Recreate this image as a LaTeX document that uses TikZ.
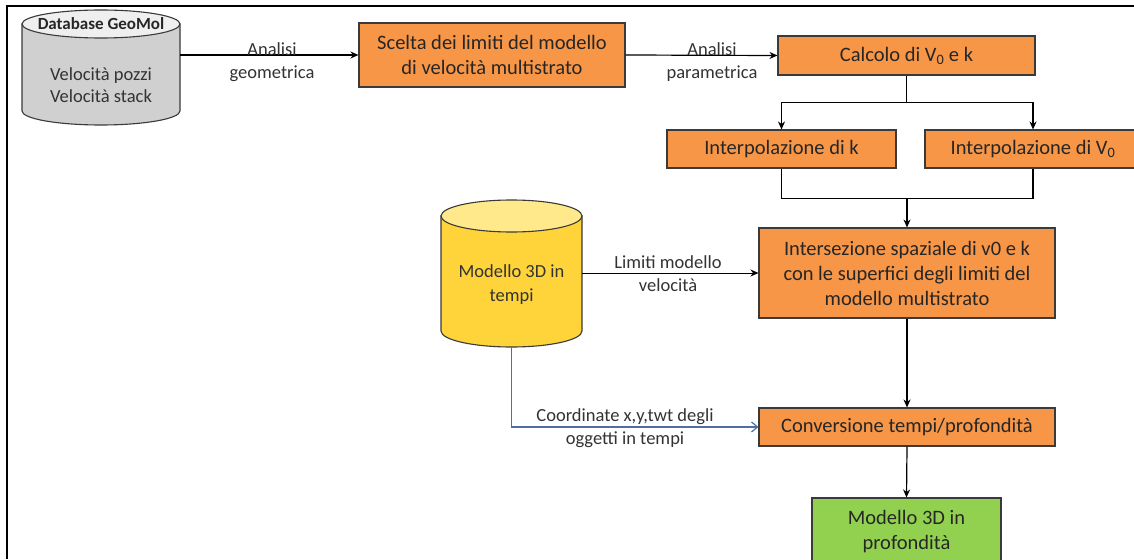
\documentclass[tikz,border=0pt]{standalone}
\usepackage{fontspec}
\setmainfont{Carlito}
\usetikzlibrary{arrows.meta}
\definecolor{orng}{HTML}{F79646}
\definecolor{grn}{HTML}{92D050}
\definecolor{ylw}{HTML}{FFD43B}
\definecolor{ylwtop}{HTML}{FFE98A}
\definecolor{gry}{HTML}{D0D0D0}
\definecolor{grytop}{HTML}{EFEFEF}
\definecolor{bluel}{HTML}{4F6EA8}
\definecolor{edge}{HTML}{3A3A3A}
\definecolor{lbl}{HTML}{333333}
\tikzset{
  box/.style={draw=edge, line width=1.1pt, fill=orng, align=center, inner sep=2pt,
    font=\fontsize{20.5}{25}\selectfont, text=black!85},
  gbox/.style={box, fill=grn},
  conn/.style={line width=1.2pt, -{Stealth[length=8pt,width=7pt]}},
  plain/.style={line width=1.2pt},
  lab/.style={align=center, font=\fontsize{18.5}{23}\selectfont, text=lbl},
  ghost/.style={draw=none, inner sep=0pt},
  cyl/.style={draw=edge, line width=1.1pt}
}
\begin{document}
\begin{tikzpicture}[x=1pt,y=-1pt]
\useasboundingbox (0,0) rectangle (1134,559);
\fill[white] (0,0) rectangle (1134,559);
% frame
\draw[line width=2.5pt] (7,559) -- (7,6) -- (1134,6);

% grey cylinder
\filldraw[cyl, fill=gry] (22,24) -- (22,111) arc[start angle=180,end angle=0,x radius=79,y radius=14] -- (180,24) -- cycle;
\filldraw[cyl, fill=grytop] (101,24) ellipse[x radius=79,y radius=14];
\node[ghost, minimum width=158pt, minimum height=115pt] (db) at (101,67.5) {};
\node[font=\fontsize{17}{19}\selectfont\bfseries, text=black!85] (dbh) at (101,24) {Database GeoMol};
\node[align=center, font=\fontsize{18.5}{22}\selectfont, text=lbl] (dbt) at (101,85) {Velocità pozzi\\Velocità stack};

% yellow cylinder
\filldraw[cyl, fill=ylw] (441,216) -- (441,331) arc[start angle=180,end angle=0,x radius=70.5,y radius=16] -- (582,216) -- cycle;
\filldraw[cyl, fill=ylwtop] (511.5,216) ellipse[x radius=70.5,y radius=16];
\node[ghost, minimum width=141pt, minimum height=147pt] (m3d) at (511.5,273.5) {};
\node[align=center, font=\fontsize{18.5}{24}\selectfont, text=black!80] (m3dt) at (511.5,285) {Modello 3D in\\tempi};

% boxes
\node[box, minimum width=266pt, minimum height=64pt] (scelta) at (492,55) {Scelta dei limiti del modello\\di velocità multistrato};
\node[box, minimum width=257pt, minimum height=39pt] (calc) at (906.5,55.5) {Calcolo di V\textsubscript{0} e k};
\node[box, minimum width=229pt, minimum height=38pt] (ik) at (781.5,149) {Interpolazione di k};
\node[box, minimum width=216pt, minimum height=38pt] (iv) at (1033,149) {Interpolazione di V\textsubscript{0}};
\node[box, minimum width=296pt, minimum height=90pt] (inter) at (907,273) {Intersezione spaziale di v0 e k\\con le superfici degli limiti del\\modello multistrato};
\node[box, minimum width=296pt, minimum height=38pt] (conv) at (907,427) {Conversione tempi/profondità};
\node[gbox, minimum width=189pt, minimum height=68pt] (out) at (906.5,532) {Modello 3D in\\profondità};

% connectors
\draw[conn] (scelta.west -| db.east) -- (scelta.west);
\node[lab] (l1) at (272,62) {Analisi\\geometrica};
\draw[conn] (scelta.east) -- (calc.west);
\node[lab] (l2) at (712,62) {Analisi\\parametrica};

\draw[plain] (calc.south) -- ++(0,27) coordinate (b1);
\draw[conn] (b1) -| (ik.north);
\draw[conn] (b1) -| (iv.north);

\draw[plain] (ik.south) -- ++(0,30) coordinate (b2) -| (iv.south);
\draw[conn] (b2 -| inter.north) -- (inter.north);

\draw[conn, line width=1pt] (m3d.east |- inter.west) -- (inter.west);
\node[lab] (l3) at (668,274) {Limiti modello\\velocità};

\draw[conn] (inter.south) -- (conv.north);
\draw[line width=1.2pt, draw=bluel, -{Straight Barb[length=6pt,width=10pt]}] (m3d.south) |- (conv.west);
\node[lab] (l4) at (625,428) {Coordinate x,y,twt degli\\oggetti in tempi};

\draw[conn] (conv.south) -- (out.north);
\end{tikzpicture}
\end{document}
